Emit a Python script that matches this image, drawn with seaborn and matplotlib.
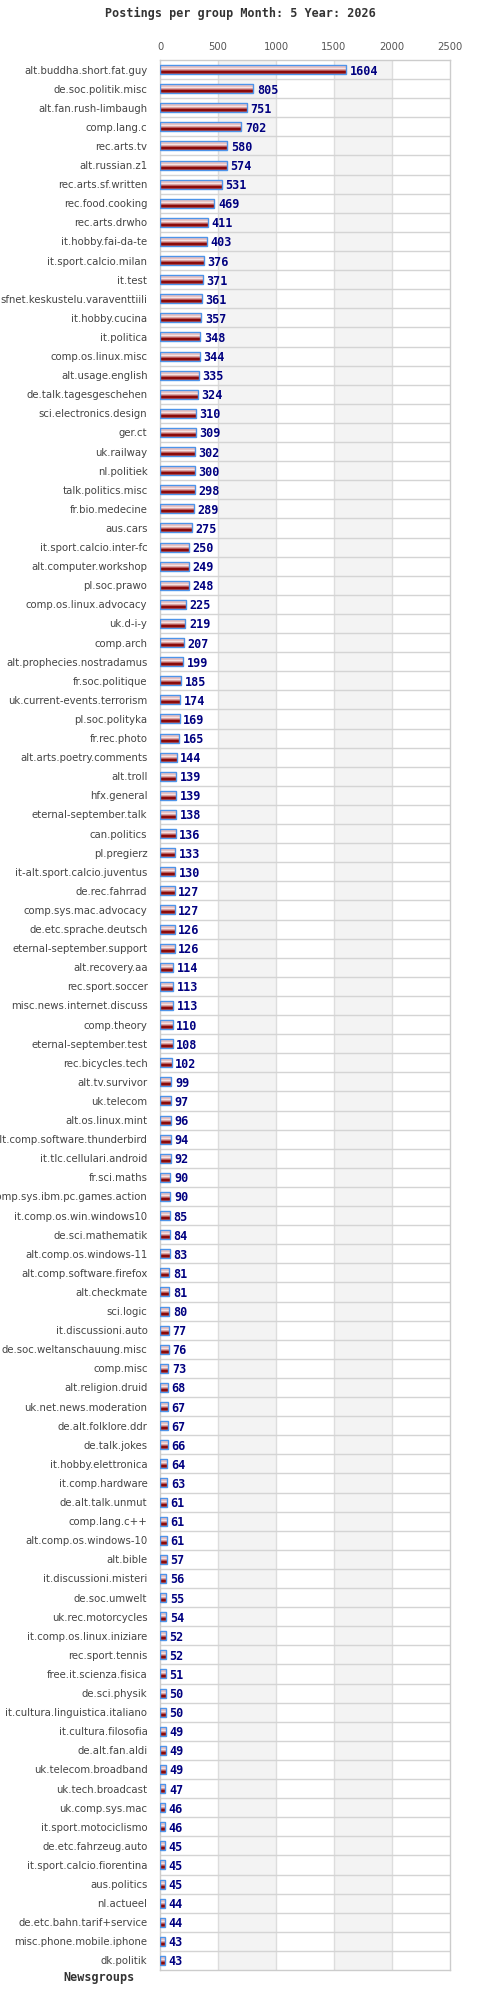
import numpy as np
import pandas as pd
import matplotlib
matplotlib.use("Agg")
import matplotlib.pyplot as plt
import seaborn as sns
from matplotlib.colors import ListedColormap

# --- Data ---
groups = [
    "alt.buddha.short.fat.guy", "de.soc.politik.misc", "alt.fan.rush-limbaugh", "comp.lang.c",
    "rec.arts.tv", "alt.russian.z1", "rec.arts.sf.written", "rec.food.cooking", "rec.arts.drwho",
    "it.hobby.fai-da-te", "it.sport.calcio.milan", "it.test", "sfnet.keskustelu.varaventtiili",
    "it.hobby.cucina", "it.politica", "comp.os.linux.misc", "alt.usage.english",
    "de.talk.tagesgeschehen", "sci.electronics.design", "ger.ct", "uk.railway", "nl.politiek",
    "talk.politics.misc", "fr.bio.medecine", "aus.cars", "it.sport.calcio.inter-fc",
    "alt.computer.workshop", "pl.soc.prawo", "comp.os.linux.advocacy", "uk.d-i-y", "comp.arch",
    "alt.prophecies.nostradamus", "fr.soc.politique", "uk.current-events.terrorism",
    "pl.soc.polityka", "fr.rec.photo", "alt.arts.poetry.comments", "alt.troll", "hfx.general",
    "eternal-september.talk", "can.politics", "pl.pregierz", "it-alt.sport.calcio.juventus",
    "de.rec.fahrrad", "comp.sys.mac.advocacy", "de.etc.sprache.deutsch",
    "eternal-september.support", "alt.recovery.aa", "rec.sport.soccer",
    "misc.news.internet.discuss", "comp.theory", "eternal-september.test", "rec.bicycles.tech",
    "alt.tv.survivor", "uk.telecom", "alt.os.linux.mint", "alt.comp.software.thunderbird",
    "it.tlc.cellulari.android", "fr.sci.maths", "comp.sys.ibm.pc.games.action",
    "it.comp.os.win.windows10", "de.sci.mathematik", "alt.comp.os.windows-11",
    "alt.comp.software.firefox", "alt.checkmate", "sci.logic", "it.discussioni.auto",
    "de.soc.weltanschauung.misc", "comp.misc", "alt.religion.druid", "uk.net.news.moderation",
    "de.alt.folklore.ddr", "de.talk.jokes", "it.hobby.elettronica", "it.comp.hardware",
    "de.alt.talk.unmut", "comp.lang.c++", "alt.comp.os.windows-10", "alt.bible",
    "it.discussioni.misteri", "de.soc.umwelt", "uk.rec.motorcycles", "it.comp.os.linux.iniziare",
    "rec.sport.tennis", "free.it.scienza.fisica", "de.sci.physik",
    "it.cultura.linguistica.italiano", "it.cultura.filosofia", "de.alt.fan.aldi",
    "uk.telecom.broadband", "uk.tech.broadcast", "uk.comp.sys.mac", "it.sport.motociclismo",
    "de.etc.fahrzeug.auto", "it.sport.calcio.fiorentina", "aus.politics", "nl.actueel",
    "de.etc.bahn.tarif+service", "misc.phone.mobile.iphone", "dk.politik",
]
postings = [
    1604, 805, 751, 702, 580, 574, 531, 469, 411, 403, 376, 371, 361, 357, 348, 344, 335, 324,
    310, 309, 302, 300, 298, 289, 275, 250, 249, 248, 225, 219, 207, 199, 185, 174, 169, 165,
    144, 139, 139, 138, 136, 133, 130, 127, 127, 126, 126, 114, 113, 113, 110, 108, 102, 99,
    97, 96, 94, 92, 90, 90, 85, 84, 83, 81, 81, 80, 77, 76, 73, 68, 67, 67, 66, 64, 63, 61,
    61, 61, 57, 56, 55, 54, 52, 52, 51, 50, 50, 49, 49, 49, 47, 46, 46, 45, 45, 45, 44, 44,
    43, 43,
]
x_ticks = [0, 500, 1000, 1500, 2000, 2500]

TITLE = "Postings per group Month: 5 Year: 2026"
MONO = "DejaVu Sans Mono"

df = pd.DataFrame({"group": groups, "postings": postings})

sns.set_style("white")
plt.rcParams["font.family"] = ["DejaVu Sans"]

fig = plt.figure(figsize=(4.8, 20), dpi=100)
ax = fig.add_axes([160 / 480, 30 / 2000, 290 / 480, 1910 / 2000])

sns.barplot(data=df, x="postings", y="group", orient="h", width=0.47,
            color="#c06060", edgecolor="#4d94ea", linewidth=1.0, ax=ax, zorder=3)
bars = list(ax.containers[0])

# alternating background bands
for lo, hi in zip(x_ticks[1::2], x_ticks[2::2]):
    ax.axvspan(lo, hi, color="#f3f3f3", zorder=0, lw=0)

# striped red fill clipped into each bar
stripes = ListedColormap(["#c87474", "#e9c3c3", "#f6e2e2", "#dba5a5",
                          "#b85c5c", "#8b0a0a", "#a83a3a"])
grad = np.linspace(0, 1, 7).reshape(-1, 1)
for p in bars:
    x0, y0, w, h = p.get_x(), p.get_y(), p.get_width(), p.get_height()
    im = ax.imshow(grad, cmap=stripes, aspect="auto", origin="upper",
                   extent=(x0, x0 + w, y0 + h, y0), interpolation="nearest", zorder=3.5)
    im.set_clip_path(p)
    p.set_facecolor("none")
    p.set_zorder(4)

ax.set_xlim(0, 2500)
ax.set_ylim(len(groups) - 0.5, -0.5)

# value labels
for i, v in enumerate(postings):
    ax.text(v + 30, i + 0.08, str(v), va="center", ha="left", color="#000080",
            fontsize=8.5, fontweight="bold", family=MONO, zorder=5)

# grid lines
for xt in x_ticks[1:-1]:
    ax.axvline(xt, color="#dddddd", lw=1, zorder=1)
for i in range(len(groups) - 1):
    ax.axhline(i + 0.5, color="#d4d4d4", lw=1, zorder=1)

ax.xaxis.tick_top()
ax.set_xticks(x_ticks)
ax.tick_params(axis="x", length=0, pad=6, labelsize=7.2, labelcolor="#555555")
ax.tick_params(axis="y", length=0, pad=9, labelsize=7.3, labelcolor="#444444")
ax.set_xlabel("")
ax.set_ylabel("")
for s in ax.spines.values():
    s.set_color("#cccccc")
    s.set_linewidth(1)

fig.text(240 / 480, 1 - 13 / 2000, TITLE, ha="center", va="center", family=MONO,
         fontsize=8.5, fontweight="bold", color="#333333")
fig.text(99 / 480, 1 - 1978 / 2000, "Newsgroups", ha="center", va="center", family=MONO,
         fontsize=8.5, fontweight="bold", color="#333333")

fig.savefig("out.png", dpi=100)
